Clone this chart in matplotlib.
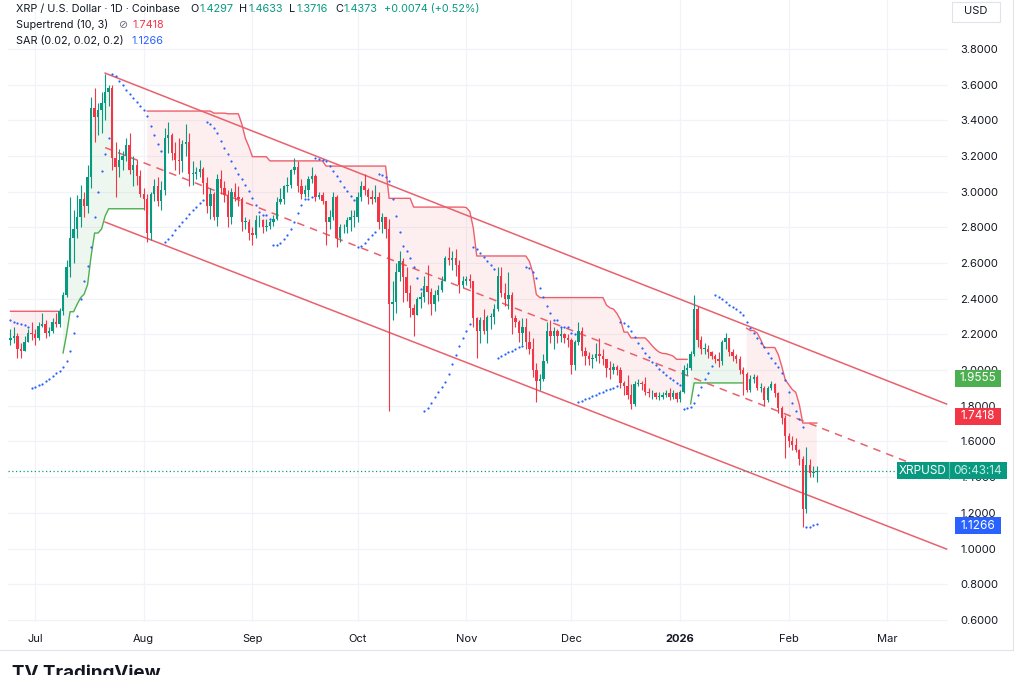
import numpy as np
import pandas as pd
import matplotlib
matplotlib.use("Agg")
import matplotlib.pyplot as plt
import matplotlib.dates as mdates
from matplotlib.patches import Rectangle
from matplotlib.transforms import blended_transform_factory

plt.rcParams['font.family'] = ['Inter', 'DejaVu Sans']

# ---- daily XRP/USD candles (Coinbase) ----
START = "2025-06-24"
first_open = 2.17

closes = [
    # Jun 24-30
    2.18, 2.19, 2.12, 2.11, 2.16, 2.21, 2.20,
    # Jul
    2.18, 2.25, 2.26, 2.21, 2.22, 2.27, 2.26, 2.33, 2.42, 2.58, 2.74, 2.79, 2.86, 2.96, 2.92, 3.08,
    3.47, 3.42, 3.46, 3.50, 3.56, 3.58, 3.19, 3.14, 3.18, 3.20, 3.26, 3.12, 3.15, 3.09, 2.99,
    # Aug
    2.96, 2.77, 2.99, 3.03, 2.95, 3.01, 3.30, 3.32, 3.22, 3.18, 3.17, 3.27, 3.28, 3.10, 3.10, 3.11,
    3.13, 3.05, 2.92, 2.99, 2.86, 3.07, 3.02, 2.98, 2.86, 3.00, 2.97, 2.96, 2.83, 2.83, 2.77,
    # Sep
    2.76, 2.84, 2.84, 2.80, 2.81, 2.83, 2.85, 2.94, 2.96, 3.03, 3.04, 3.12, 3.14, 3.03, 2.99,
    3.01, 3.07, 3.09, 2.97, 2.98, 2.95, 2.83, 2.86, 2.97, 2.74, 2.80, 2.80, 2.84, 2.86, 2.86,
    # Oct
    2.97, 3.03, 3.01, 2.97, 2.96, 2.97, 2.83, 2.86, 2.79, 2.37, 2.38, 2.55, 2.61, 2.52, 2.43, 2.35,
    2.31, 2.40, 2.41, 2.47, 2.44, 2.37, 2.42, 2.45, 2.50, 2.63, 2.62, 2.63, 2.59, 2.48, 2.50,
    # Nov
    2.51, 2.50, 2.29, 2.22, 2.28, 2.22, 2.30, 2.30, 2.34, 2.53, 2.43, 2.40, 2.42, 2.29, 2.27,
    2.21, 2.24, 2.16, 2.12, 2.00, 1.94, 1.95, 2.05, 2.22, 2.19, 2.22, 2.19, 2.20, 2.18, 2.17,
    # Dec
    2.03, 2.16, 2.22, 2.11, 2.08, 2.06, 2.07, 2.09, 2.08, 2.06, 2.01, 2.00, 2.02, 2.00, 1.93, 1.91,
    1.86, 1.81, 1.92, 1.93, 1.92, 1.88, 1.87, 1.87, 1.85, 1.85, 1.86, 1.87, 1.85, 1.87, 1.84,
    # Jan
    1.88, 2.00, 2.01, 2.09, 2.34, 2.17, 2.12, 2.12, 2.10, 2.08, 2.06, 2.05, 2.16, 2.18, 2.10, 2.08,
    2.06, 2.00, 1.98, 1.89, 1.95, 1.96, 1.90, 1.90, 1.83, 1.90, 1.92, 1.87, 1.79, 1.73, 1.63,
    # Feb 1-9
    1.60, 1.58, 1.55, 1.50, 1.22, 1.47, 1.425, 1.4297, 1.4373,
]

highs = [
    2.23, 2.24, 2.21, 2.15, 2.19, 2.23, 2.27,
    2.23, 2.27, 2.32, 2.28, 2.24, 2.29, 2.32, 2.35, 2.44, 2.62, 2.97, 2.90, 2.98, 3.04, 3.00, 3.15,
    3.53, 3.58, 3.50, 3.56, 3.66, 3.60, 3.60, 3.28, 3.24, 3.23, 3.30, 3.33, 3.20, 3.18, 3.12,
    3.02, 2.99, 3.00, 3.07, 3.08, 3.06, 3.36, 3.39, 3.33, 3.28, 3.30, 3.29, 3.38, 3.33, 3.17, 3.14,
    3.18, 3.14, 3.08, 3.02, 3.00, 3.10, 3.12, 3.06, 3.01, 3.02, 3.05, 3.03, 2.97, 2.86, 2.85,
    2.80, 2.87, 2.87, 2.85, 2.85, 2.84, 2.87, 2.97, 3.02, 3.04, 3.08, 3.13, 3.19, 3.17, 3.07,
    3.04, 3.09, 3.14, 3.10, 3.00, 3.00, 2.89, 2.90, 3.00, 2.98, 2.82, 2.82, 2.86, 2.90, 2.90,
    3.00, 3.06, 3.10, 3.02, 3.01, 3.04, 3.00, 2.88, 2.86, 2.85, 2.50, 2.60, 2.67, 2.63, 2.58, 2.48,
    2.37, 2.41, 2.44, 2.53, 2.59, 2.46, 2.45, 2.48, 2.53, 2.64, 2.69, 2.67, 2.68, 2.62, 2.53,
    2.53, 2.54, 2.50, 2.30, 2.30, 2.34, 2.31, 2.32, 2.37, 2.58, 2.58, 2.49, 2.55, 2.44, 2.31,
    2.28, 2.29, 2.29, 2.22, 2.18, 2.04, 1.98, 2.09, 2.27, 2.28, 2.24, 2.23, 2.24, 2.21, 2.20,
    2.18, 2.17, 2.27, 2.24, 2.13, 2.10, 2.09, 2.15, 2.18, 2.12, 2.06, 2.05, 2.04, 2.03, 2.02, 1.94,
    1.97, 1.92, 1.94, 1.95, 1.94, 1.96, 1.90, 1.89, 1.88, 1.88, 1.88, 1.89, 1.90, 1.89, 1.88,
    1.89, 2.03, 2.04, 2.11, 2.42, 2.36, 2.19, 2.15, 2.14, 2.11, 2.09, 2.10, 2.17, 2.21, 2.18, 2.12,
    2.09, 2.08, 2.02, 1.99, 1.97, 1.98, 1.97, 1.93, 1.91, 1.91, 1.94, 1.93, 1.88, 1.80, 1.75,
    1.65, 1.63, 1.62, 1.56, 1.52, 1.57, 1.50, 1.46, 1.4633,
]

lows = [
    2.14, 2.15, 2.07, 2.07, 2.11, 2.16, 2.17,
    2.14, 2.17, 2.24, 2.18, 2.19, 2.21, 2.24, 2.24, 2.31, 2.41, 2.52, 2.60, 2.74, 2.80, 2.86, 2.88,
    3.02, 3.28, 3.32, 3.33, 3.40, 3.48, 3.12, 2.97, 3.08, 3.12, 3.17, 3.10, 3.03, 3.04, 2.97,
    2.90, 2.72, 2.73, 2.95, 2.92, 2.90, 2.98, 3.22, 3.18, 3.12, 3.10, 3.11, 3.20, 3.03, 3.04, 3.07,
    3.08, 2.99, 2.88, 2.85, 2.84, 2.81, 2.99, 2.94, 2.80, 2.82, 2.95, 2.92, 2.78, 2.79, 2.73,
    2.70, 2.74, 2.80, 2.77, 2.78, 2.79, 2.81, 2.84, 2.93, 2.93, 3.00, 3.02, 3.10, 3.00, 2.96,
    2.97, 2.97, 3.05, 2.95, 2.96, 2.93, 2.70, 2.79, 2.84, 2.69, 2.72, 2.77, 2.77, 2.78, 2.80,
    2.83, 2.95, 2.98, 2.93, 2.93, 2.94, 2.79, 2.77, 2.74, 1.77, 2.28, 2.32, 2.50, 2.38, 2.39, 2.30,
    2.19, 2.31, 2.35, 2.38, 2.37, 2.31, 2.33, 2.39, 2.44, 2.50, 2.59, 2.56, 2.53, 2.43, 2.46,
    2.48, 2.46, 2.24, 2.07, 2.15, 2.20, 2.15, 2.23, 2.26, 2.33, 2.41, 2.36, 2.34, 2.20, 2.24,
    2.16, 2.14, 2.12, 2.09, 1.96, 1.82, 1.89, 1.94, 2.04, 2.15, 2.12, 2.15, 2.16, 2.15, 2.13,
    1.98, 2.00, 2.14, 2.08, 2.03, 2.03, 2.01, 2.05, 2.04, 2.03, 1.96, 1.95, 1.98, 1.97, 1.90, 1.86,
    1.84, 1.78, 1.80, 1.91, 1.89, 1.86, 1.85, 1.84, 1.84, 1.83, 1.84, 1.85, 1.83, 1.84, 1.82,
    1.82, 1.87, 1.97, 2.00, 2.08, 2.13, 2.09, 2.09, 2.07, 2.06, 2.04, 2.02, 2.03, 2.12, 2.08, 2.05,
    2.04, 1.98, 1.86, 1.88, 1.88, 1.93, 1.89, 1.88, 1.80, 1.82, 1.89, 1.85, 1.76, 1.70, 1.51,
    1.57, 1.55, 1.54, 1.47, 1.12, 1.20, 1.40, 1.40, 1.3716,
]

assert len(closes) == len(highs) == len(lows)

ST_DN_START = 2.33      # supertrend (red) level at the left edge
SAR_START = 2.28        # first SAR dot (above price)
SAR_EP_START = 1.90     # level SAR flips to at start of July

# trend channel anchors
chan_dates = ["2025-07-21", "2026-03-18"]
chan_upper = [3.665, 1.81]
chan_mid = [3.2475, 1.40]
chan_lower = [2.83, 0.997]

# last-value labels
last_close = 1.4373
st_up_label = 1.9555
st_dn_label = 1.7418
sar_label = 1.1266
countdown = "06:43:14"

months = ["2025-07-01", "2025-08-01", "2025-09-01", "2025-10-01", "2025-11-01",
          "2025-12-01", "2026-01-01", "2026-02-01", "2026-03-01"]
month_labels = ["Jul", "Aug", "Sep", "Oct", "Nov", "Dec", "2026", "Feb", "Mar"]
price_ticks = [0.6, 0.8, 1.0, 1.2, 1.4, 1.6, 1.8, 2.0, 2.2, 2.4, 2.6, 2.8, 3.0, 3.2, 3.4, 3.6, 3.8]

GREEN = "#089981"
RED = "#F23645"
BLUE = "#2962FF"
TXT = "#131722"
GRID = "#f0f3fa"


def supertrend(h, l, c, period=10, mult=3.0):
    n = len(c)
    tr = np.empty(n)
    tr[0] = h[0] - l[0]
    for i in range(1, n):
        tr[i] = max(h[i] - l[i], abs(h[i] - c[i - 1]), abs(l[i] - c[i - 1]))
    atr = np.empty(n)
    atr[0] = tr[:period].mean()
    for i in range(1, n):
        atr[i] = (atr[i - 1] * (period - 1) + tr[i]) / period
    hl2 = (h + l) / 2
    up = hl2 - mult * atr
    dn = hl2 + mult * atr
    dn[0] = ST_DN_START
    trend = np.empty(n, dtype=int)
    trend[0] = -1
    for i in range(1, n):
        if c[i - 1] > up[i - 1]:
            up[i] = max(up[i], up[i - 1])
        if c[i - 1] < dn[i - 1]:
            dn[i] = min(dn[i], dn[i - 1])
        if trend[i - 1] == -1 and c[i] > dn[i - 1]:
            trend[i] = 1
        elif trend[i - 1] == 1 and c[i] < up[i - 1]:
            trend[i] = -1
        else:
            trend[i] = trend[i - 1]
    return up, dn, trend


def parabolic_sar(h, l, start=0.02, inc=0.02, mx=0.2):
    n = len(h)
    out = np.empty(n)
    up = False
    s = SAR_START
    ep = SAR_EP_START
    af = start
    out[0] = s
    for i in range(1, n):
        s = s + af * (ep - s)
        if up:
            s = min(s, l[i - 1], l[max(i - 2, 0)])
            if l[i] < s:
                up, s, ep, af = False, ep, l[i], start
            elif h[i] > ep:
                ep, af = h[i], min(af + inc, mx)
        else:
            s = max(s, h[i - 1], h[max(i - 2, 0)])
            if h[i] > s:
                up, s, ep, af = True, ep, h[i], start
            elif l[i] < ep:
                ep, af = l[i], min(af + inc, mx)
        out[i] = s
    return out


dates = pd.date_range(START, periods=len(closes), freq="D")
x = mdates.date2num(dates.to_numpy())
c = np.array(closes)
h = np.array(highs)
l = np.array(lows)
o = np.array([first_open] + closes[:-1])

st_up, st_dn, trend = supertrend(h, l, c)
sar = parabolic_sar(h, l)
body_mid = (o + c) / 2
up_line = np.where(trend == 1, st_up, np.nan)
dn_line = np.where(trend == -1, st_dn, np.nan)

# ---- figure ----
W, H = 1024, 675
fig = plt.figure(figsize=(W / 100, H / 100), dpi=100)
fig.patch.set_facecolor("white")
ax_l, ax_r, ax_b, ax_t = 8, 948, 622, 0
ax = fig.add_axes([ax_l / W, 1 - ax_b / H, (ax_r - ax_l) / W, (ax_b - ax_t) / H])
ax.set_facecolor("white")

ax.set_xlim(mdates.date2num(pd.Timestamp("2025-06-23 07:00")),
            mdates.date2num(pd.Timestamp("2026-03-18 10:00")))
ax.set_ylim(0.588, 4.075)

for s in ax.spines.values():
    s.set_visible(False)

month_x = mdates.date2num(pd.to_datetime(months).to_numpy())
ax.set_xticks(month_x)
ax.set_xticklabels(month_labels)
ax.set_yticks(price_ticks)
ax.set_yticklabels([f"{v:.4f}" for v in price_ticks])
ax.yaxis.tick_right()
ax.tick_params(axis="y", length=0, pad=9, labelsize=8, labelcolor=TXT)
ax.tick_params(axis="x", length=0, pad=9, labelsize=8, labelcolor=TXT)
for lab in ax.get_xticklabels():
    if lab.get_text() == "2026":
        lab.set_fontweight("bold")
ax.grid(True, color=GRID, lw=0.9, zorder=0)
ax.set_axisbelow(True)

# supertrend fills and lines
ax.fill_between(x, up_line, body_mid, color="#4CAF50", alpha=0.09, lw=0, zorder=1)
ax.fill_between(x, dn_line, body_mid, color=RED, alpha=0.08, lw=0, zorder=1)
ax.plot(x, up_line, color="#4CAF50", lw=1.0, zorder=2)
ax.plot(x, dn_line, color="#ef5f6b", lw=1.0, zorder=2)

# channel
cx = mdates.date2num(pd.to_datetime(chan_dates).to_numpy())
ax.plot(cx, chan_upper, color="#e8616c", lw=1.1, zorder=3)
ax.plot(cx, chan_lower, color="#e8616c", lw=1.1, zorder=3)
ax.plot(cx, chan_mid, color="#e8616c", lw=1.1, ls=(0, (5, 4)), zorder=3)

# candles
cols = np.where(c >= o, GREEN, RED)
ax.vlines(x, l, h, colors=cols, lw=0.8, zorder=4)
body = np.maximum(np.abs(c - o), 0.004)
ax.bar(x, body, bottom=np.minimum(o, c), width=0.68, color=cols, lw=0, zorder=5)

# SAR
ax.scatter(x, sar, s=2.6, color=BLUE, lw=0, zorder=6)

# last price line
ax.axhline(last_close, color=GREEN, lw=0.9, ls=(0, (1, 2)), zorder=3)

# price scale labels
bt = blended_transform_factory(ax.transAxes, ax.transData)
ppu = (ax_b - ax_t) / (4.075 - 0.588)
box_h = 17 / ppu
axw = ax_r - ax_l


def price_box(price, color, text, left=955, right=1001, tcol="white"):
    x0 = (left - ax_l) / axw
    x1 = (right - ax_l) / axw
    ax.add_patch(Rectangle((x0, price - box_h / 2), x1 - x0, box_h, transform=bt,
                           facecolor=color, edgecolor="none", clip_on=False, zorder=20))
    ax.text((x0 + x1) / 2, price, text, transform=bt, color=tcol, fontsize=8.5,
            ha="center", va="center", clip_on=False, zorder=21)


price_box(st_up_label, "#4CAF50", f"{st_up_label:.4f}")
price_box(st_dn_label, RED, f"{st_dn_label:.4f}")
price_box(sar_label, BLUE, f"{sar_label:.4f}")
# ticker + countdown box
x0 = (897 - ax_l) / axw
xm = (949 - ax_l) / axw
x1 = (1007 - ax_l) / axw
ax.add_patch(Rectangle((x0, last_close - box_h / 2), x1 - x0, box_h, transform=bt,
                       facecolor=GREEN, edgecolor="none", clip_on=False, zorder=20))
ax.plot([xm, xm], [last_close - box_h / 2, last_close + box_h / 2], transform=bt,
        color="#5cc0ad", lw=0.8, clip_on=False, zorder=21)
ax.text((x0 + xm) / 2, last_close, "XRPUSD", transform=bt, color="white", fontsize=8.5,
        ha="center", va="center", clip_on=False, zorder=22)
ax.text((xm + x1) / 2, last_close, countdown, transform=bt, color="#c8ece4", fontsize=8.5,
        ha="center", va="center", clip_on=False, zorder=22)


# ---- header legend ----
def ftext(px, py, s, color=TXT, **kw):
    fig.text(px / W, 1 - py / H, s, color=color, fontsize=7.8, va="center", ha="left", **kw)


ftext(16, 9, "XRP / U.S. Dollar · 1D · Coinbase")
for px, s, col in [(190, "O", TXT), (199, "1.4297", GREEN), (239, "H", TXT), (248, "1.4633", GREEN),
                   (289, "L", TXT), (296, "1.3716", GREEN), (335, "C", TXT), (343, "1.4373", GREEN),
                   (384, "+0.0074 (+0.52%)", GREEN)]:
    ftext(px, 9, s, col)
ftext(16, 25, "Supertrend (10, 3)")
ftext(119, 25, "⊘", "#6a6d78", family=["DejaVu Sans"])
ftext(132, 25, f"{st_dn_label:.4f}", RED)
ftext(16, 41, "SAR (0.02, 0.02, 0.2)")
ftext(131, 41, f"{sar_label:.4f}", BLUE)

# USD box on the price scale
fig.patches.append(Rectangle((952 / W, 1 - 22 / H), 48 / W, 20 / H, transform=fig.transFigure,
                             facecolor="white", edgecolor="#e0e3eb", lw=0.8))
fig.text(976 / W, 1 - 11 / H, "USD", fontsize=8, color=TXT, ha="center", va="center")

# frame lines
fig.add_artist(plt.Line2D([0, 1013 / W], [1 - 650 / H] * 2, transform=fig.transFigure,
                          color="#e0e3eb", lw=0.8))
fig.add_artist(plt.Line2D([1013 / W] * 2, [1 - 650 / H, 1], transform=fig.transFigure,
                          color="#e0e3eb", lw=0.8))

# TradingView watermark at the bottom (cut by the image edge)
fig.text(12 / W, 1 - 664 / H, "TV TradingView", fontsize=13.5, fontweight="bold",
         color="#131722", ha="left", va="top")

fig.savefig("out.png", dpi=100, facecolor="white")
